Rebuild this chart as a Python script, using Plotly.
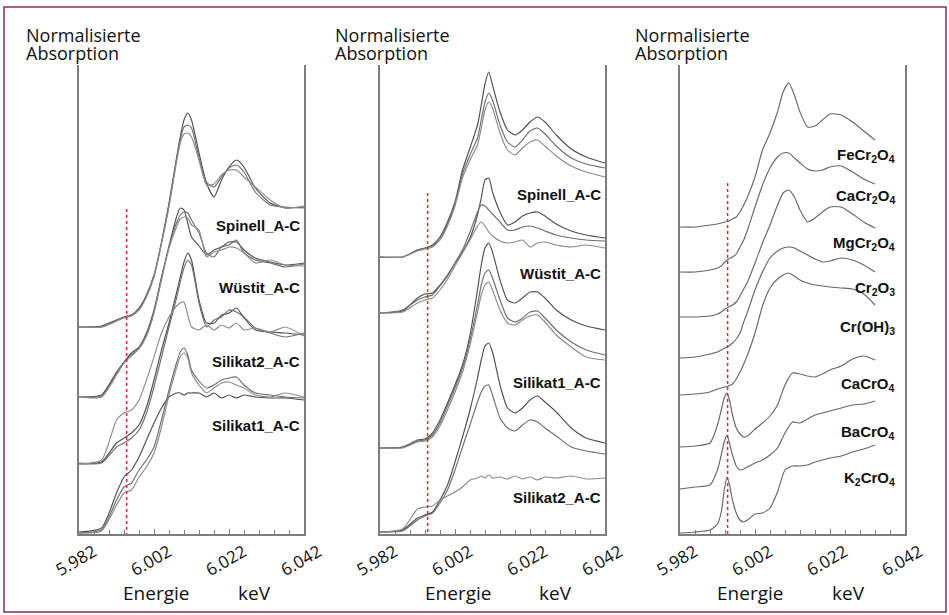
import plotly.graph_objects as go

# ---------------- energy grids (keV) ----------------
energy_fe = [5.982, 5.988, 5.992, 5.994, 5.996, 5.998, 6.000, 6.002, 6.004, 6.006,
             6.008, 6.009, 6.010, 6.011, 6.012, 6.014, 6.016, 6.018, 6.020, 6.022,
             6.024, 6.026, 6.029, 6.033, 6.037, 6.042]
energy_ref = [5.982, 5.986, 5.990, 5.992, 5.993, 5.994, 5.995, 5.996, 5.997, 5.998,
              5.999, 6.000, 6.002, 6.004, 6.006, 6.008, 6.0095, 6.011, 6.0125, 6.014,
              6.016, 6.018, 6.020, 6.022, 6.025, 6.028, 6.031, 6.034]
energy_chromate = [5.982, 5.986, 5.990, 5.992, 5.993, 5.9938, 5.9945, 5.9952, 5.996, 5.997,
                   5.998, 5.999, 6.000, 6.002, 6.004, 6.006, 6.008, 6.010, 6.012, 6.014,
                   6.016, 6.018, 6.020, 6.022, 6.025, 6.028, 6.031, 6.034]

# ---------------- panel 1 (stacked, normalised absorption + offset) ----------------
p1_spinell = [
    [20.7, 20.8, 21.4, 21.7, 21.9, 22.6, 23.9, 25.9, 29.2, 33.1, 37.6, 39.7, 41.4, 42.1, 41.4, 38.1, 35.1, 33.7, 35.4, 36.7, 37.4, 36.7, 34.6, 33.1, 32.6, 32.7],
    [20.7, 20.7, 21.3, 21.7, 21.9, 22.5, 23.8, 25.8, 29.1, 32.9, 37.4, 39.4, 40.7, 40.9, 40.6, 37.6, 35.2, 34.7, 35.7, 36.6, 36.9, 36.2, 34.2, 32.9, 32.7, 32.6],
    [20.7, 20.7, 21.3, 21.6, 21.8, 22.4, 23.7, 25.7, 29.0, 32.7, 37.2, 39.1, 40.0, 40.1, 39.7, 37.4, 34.9, 35.0, 35.9, 36.4, 36.4, 35.7, 34.7, 33.4, 32.6, 32.8],
]
p1_wuestit = [
    [13.7, 13.9, 16.2, 17.2, 18.1, 18.7, 20.1, 22.4, 25.7, 28.8, 31.7, 32.6, 32.4, 31.1, 29.7, 28.8, 27.9, 28.4, 28.7, 29.2, 29.2, 28.4, 27.6, 27.2, 26.9, 27.1],
    [13.7, 13.8, 16.0, 17.1, 17.9, 18.6, 19.9, 22.2, 25.6, 28.7, 31.1, 31.9, 32.2, 32.1, 31.4, 30.1, 28.1, 27.7, 28.7, 28.9, 29.4, 28.1, 27.4, 27.1, 26.7, 27.0],
    [13.7, 13.7, 15.9, 17.1, 17.8, 18.5, 19.8, 22.1, 25.4, 28.6, 30.7, 31.5, 31.7, 31.6, 30.9, 30.4, 27.7, 28.2, 28.4, 28.7, 28.6, 28.1, 27.1, 27.4, 26.9, 26.8],
]
p1_silikat2 = [
    [7.0, 7.2, 9.1, 9.6, 10.1, 10.9, 12.7, 15.4, 18.4, 21.1, 24.1, 25.7, 27.2, 28.1, 27.4, 23.4, 21.1, 21.1, 21.9, 22.1, 22.6, 21.6, 20.4, 20.2, 20.1, 19.9],
    [7.1, 7.1, 8.7, 9.1, 9.6, 10.4, 12.1, 14.7, 17.7, 20.7, 23.6, 25.2, 26.6, 27.4, 26.9, 23.1, 20.7, 21.4, 21.7, 22.4, 22.2, 21.7, 20.6, 20.1, 19.7, 20.1],
    [7.0, 7.4, 11.4, 12.1, 12.4, 13.4, 15.4, 17.7, 20.1, 21.7, 22.8, 23.1, 23.2, 21.9, 20.7, 20.4, 20.9, 20.4, 20.9, 20.6, 21.1, 20.4, 20.6, 20.2, 20.7, 19.8],
]
p1_silikat1 = [
    [0.2, 0.6, 4.1, 5.7, 6.4, 7.7, 9.4, 11.1, 12.6, 13.7, 14.1, 14.1, 13.9, 14.1, 14.1, 14.1, 13.7, 14.1, 13.6, 13.9, 13.6, 13.9, 13.7, 13.6, 13.6, 13.4],
    [0.1, 0.4, 3.4, 4.7, 5.1, 6.4, 7.4, 8.7, 11.4, 14.4, 17.1, 18.2, 18.6, 17.9, 16.4, 15.3, 14.6, 14.9, 15.4, 15.6, 15.7, 14.9, 14.1, 13.9, 13.7, 13.6],
    [0.1, 0.3, 2.9, 4.1, 4.4, 5.7, 6.7, 8.1, 10.7, 13.9, 16.6, 17.7, 18.1, 17.6, 16.1, 14.9, 14.1, 14.6, 15.1, 15.2, 14.9, 14.6, 13.9, 13.7, 14.1, 13.7],
]

# ---------------- panel 2 ----------------
p2_spinell = [
    [27.7, 27.7, 28.4, 28.6, 28.9, 29.7, 31.2, 33.2, 36.4, 38.6, 40.9, 42.9, 45.0, 46.2, 44.9, 42.2, 40.4, 39.9, 40.4, 41.2, 41.7, 41.2, 39.9, 38.5, 37.7, 37.1],
    [27.7, 27.7, 28.4, 28.6, 28.8, 29.6, 31.0, 33.0, 36.0, 37.9, 39.6, 41.4, 43.2, 44.1, 43.4, 40.9, 39.2, 38.7, 39.4, 40.3, 40.6, 40.0, 38.8, 37.6, 37.0, 36.6],
    [27.7, 27.7, 28.3, 28.5, 28.7, 29.4, 30.8, 32.8, 35.6, 37.4, 38.9, 40.6, 42.4, 43.2, 42.6, 40.1, 38.4, 37.9, 38.6, 39.2, 39.4, 38.8, 37.8, 36.8, 36.2, 35.7],
]
p2_wuestit = [
    [22.1, 22.3, 23.6, 24.0, 24.1, 24.9, 25.9, 27.1, 28.2, 29.6, 31.9, 33.6, 35.4, 35.6, 34.2, 32.2, 30.9, 31.2, 31.8, 32.1, 32.2, 31.8, 31.0, 30.3, 29.9, 29.6],
    [22.1, 22.4, 23.4, 23.7, 23.9, 24.8, 25.8, 27.1, 28.4, 30.2, 32.2, 32.9, 32.8, 32.4, 32.0, 31.2, 30.4, 30.4, 30.7, 30.8, 30.6, 30.3, 29.9, 29.6, 29.4, 29.3],
    [22.1, 22.2, 23.1, 23.4, 23.6, 24.4, 25.5, 26.8, 28.1, 29.4, 30.8, 31.2, 30.8, 30.2, 29.8, 29.3, 29.1, 29.2, 29.4, 28.7, 29.1, 29.2, 28.9, 28.7, 28.9, 28.6],
]
p2_silikat1 = [
    [8.6, 8.7, 9.4, 9.5, 10.1, 11.4, 13.1, 14.9, 16.9, 19.9, 24.4, 26.9, 28.6, 29.1, 28.2, 25.4, 23.4, 23.1, 23.6, 24.2, 24.2, 23.6, 22.4, 21.4, 20.8, 20.4],
    [8.6, 8.7, 9.3, 9.4, 9.9, 11.1, 12.8, 14.6, 16.6, 19.4, 22.9, 24.9, 26.1, 26.4, 25.6, 23.4, 21.6, 21.2, 21.6, 22.2, 22.3, 21.6, 20.4, 19.2, 18.4, 17.9],
    [8.6, 8.6, 9.2, 9.3, 9.7, 10.8, 12.4, 14.2, 16.2, 18.9, 22.2, 23.9, 24.9, 25.2, 24.4, 22.4, 21.1, 20.9, 21.4, 21.8, 21.9, 21.2, 19.9, 18.7, 17.7, 17.4],
]
p2_silikat2 = [
    [0.2, 0.4, 1.6, 1.9, 2.2, 3.4, 4.9, 7.2, 9.7, 12.4, 15.6, 17.4, 18.8, 19.1, 18.2, 14.9, 12.6, 12.1, 12.6, 13.4, 13.8, 13.2, 12.2, 10.6, 9.6, 9.1],
    [0.2, 0.3, 1.4, 1.8, 2.1, 3.1, 4.4, 6.4, 8.7, 10.9, 13.2, 14.2, 14.8, 14.9, 13.9, 11.6, 10.6, 10.3, 10.9, 11.4, 11.2, 10.6, 9.8, 8.7, 8.3, 8.0],
    [0.2, 0.5, 2.5, 2.7, 2.8, 3.4, 3.8, 4.2, 4.7, 5.4, 5.6, 5.8, 5.6, 5.9, 5.6, 5.7, 5.5, 5.8, 5.5, 5.7, 5.4, 5.7, 5.6, 5.8, 5.5, 5.6],
]

# ---------------- panel 3 (reference compounds) ----------------
ref_fecr2o4 = [30.7, 30.7, 30.9, 31.0, 31.1, 31.2, 31.3, 31.5, 31.7, 32.2, 32.9, 33.7, 35.7, 38.4, 40.1, 42.2, 44.2, 45.1, 43.9, 42.2, 40.7, 40.8, 41.4, 42.0, 41.9, 41.2, 40.3, 39.4]
ref_cacr2o4 = [26.2, 26.2, 26.4, 26.6, 26.8, 27.2, 27.5, 27.7, 28.0, 28.7, 29.4, 30.4, 32.7, 34.9, 36.6, 37.7, 38.1, 38.1, 37.6, 37.1, 36.5, 36.3, 36.4, 36.7, 36.8, 36.2, 35.5, 35.0]
ref_mgcr2o4 = [21.7, 21.7, 21.8, 22.0, 22.2, 22.5, 22.7, 22.9, 23.2, 23.8, 24.5, 25.2, 27.1, 29.1, 30.9, 32.9, 34.1, 34.4, 33.7, 32.4, 31.2, 31.6, 32.2, 32.7, 32.7, 32.0, 31.2, 30.6]
ref_cr2o3 = [17.6, 17.7, 18.0, 18.2, 18.4, 18.6, 18.8, 19.1, 19.5, 20.1, 21.2, 22.2, 24.4, 26.2, 27.6, 28.3, 28.6, 28.7, 28.6, 28.3, 27.9, 27.5, 27.2, 27.3, 27.6, 27.4, 26.9, 26.2]
ref_croh3 = [13.9, 14.0, 14.2, 14.5, 14.6, 14.7, 14.8, 15.0, 15.5, 16.2, 17.0, 17.9, 20.1, 22.8, 24.6, 25.5, 25.9, 26.1, 25.8, 25.4, 25.1, 24.9, 24.8, 24.7, 24.6, 24.5, 24.0, 22.9]
ref_cacro4 = [8.7, 8.8, 9.1, 10.9, 12.4, 13.6, 14.1, 13.4, 11.9, 10.6, 10.0, 9.7, 9.8, 10.5, 11.1, 11.8, 12.9, 14.9, 16.1, 16.0, 15.8, 15.7, 16.0, 16.4, 16.8, 17.5, 17.8, 17.4]
ref_bacro4 = [4.5, 4.7, 4.9, 6.4, 7.9, 9.2, 9.9, 9.1, 7.9, 6.8, 6.4, 6.5, 6.7, 7.1, 7.4, 7.9, 8.6, 10.1, 11.2, 11.1, 11.5, 11.9, 12.1, 12.3, 12.6, 12.9, 13.0, 13.3]
ref_k2cro4 = [0.1, 0.2, 0.4, 1.0, 2.2, 4.4, 5.7, 4.9, 3.4, 2.1, 1.4, 1.2, 1.4, 2.0, 2.1, 2.6, 4.2, 6.4, 6.8, 6.8, 6.9, 7.2, 7.4, 7.6, 7.8, 8.2, 8.5, 8.9]

# ---------------- labels ----------------
p1_labels = ["Spinell_A-C", "Wüstit_A-C", "Silikat2_A-C", "Silikat1_A-C"]
p1_label_y = [30.9, 24.7, 17.3, 10.9]
p2_labels = ["Spinell_A-C", "Wüstit_A-C", "Silikat1_A-C", "Silikat2_A-C"]
p2_label_y = [34.0, 26.1, 15.2, 3.7]
p3_labels = ["FeCr<sub>2</sub>O<sub>4</sub>", "CaCr<sub>2</sub>O<sub>4</sub>", "MgCr<sub>2</sub>O<sub>4</sub>",
             "Cr<sub>2</sub>O<sub>3</sub>", "Cr(OH)<sub>3</sub>", "CaCrO<sub>4</sub>", "BaCrO<sub>4</sub>",
             "K<sub>2</sub>CrO<sub>4</sub>"]
p3_label_y = [37.9, 33.8, 29.1, 24.6, 20.7, 15.0, 10.2, 5.6]
label_x = [6.0415, 6.0415, 6.0399]

tick_vals = [5.982, 6.002, 6.022, 6.042]
tick_text = ["5.982", "6.002", "6.022", "6.042"]
x_range = [5.982, 6.042]
y_range = [0, 46.9]

red_energy = 5.9947
red_top = [32.5, 34.1, 35.1]
xlabel_pos = [(6.0025, 6.0287), (6.0027, 6.0289), (6.0007, 6.0270)]

curve_colors = ["#4f4f4f", "#6e6e6e", "#8a8a8a"]

fig = go.Figure()

panels = [
    ("x", "y", energy_fe, [p1_spinell, p1_wuestit, p1_silikat2, p1_silikat1]),
    ("x2", "y2", energy_fe, [p2_spinell, p2_wuestit, p2_silikat1, p2_silikat2]),
]
for xa, ya, en, groups in panels:
    for grp in groups:
        for k, vals in enumerate(grp):
            fig.add_trace(go.Scatter(x=en, y=vals, xaxis=xa, yaxis=ya, mode="lines",
                                     line=dict(color=curve_colors[k], width=1.15, shape="spline", smoothing=0.6),
                                     showlegend=False, hoverinfo="skip"))

for vals in [ref_fecr2o4, ref_cacr2o4, ref_mgcr2o4, ref_cr2o3, ref_croh3]:
    fig.add_trace(go.Scatter(x=energy_ref, y=vals, xaxis="x3", yaxis="y3", mode="lines",
                             line=dict(color="#666666", width=1.15, shape="spline", smoothing=0.6),
                             showlegend=False, hoverinfo="skip"))
for vals in [ref_cacro4, ref_bacro4, ref_k2cro4]:
    fig.add_trace(go.Scatter(x=energy_chromate, y=vals, xaxis="x3", yaxis="y3", mode="lines",
                             line=dict(color="#666666", width=1.15, shape="spline", smoothing=0.6),
                             showlegend=False, hoverinfo="skip"))

# red dotted reference lines
for i, (xa, ya) in enumerate([("x", "y"), ("x2", "y2"), ("x3", "y3")]):
    fig.add_trace(go.Scatter(x=[red_energy, red_energy], y=[red_top[i], 0], xaxis=xa, yaxis=ya,
                             mode="lines", line=dict(color="#e5262b", width=1.5, dash="dot"),
                             showlegend=False, hoverinfo="skip"))

x_domains = [[79 / 949, 304 / 949], [380 / 949, 605 / 949], [680 / 949, 905 / 949]]
y_domain = [81 / 615, 550 / 615]
axis_col = "#7d7d7d"

layout = dict(width=949, height=615, margin=dict(l=0, r=0, t=0, b=0),
              paper_bgcolor="white", plot_bgcolor="white", showlegend=False)
for i in range(3):
    sx = "" if i == 0 else str(i + 1)
    layout["xaxis" + sx] = dict(domain=x_domains[i], anchor="y" + sx, range=x_range,
                                showgrid=False, zeroline=False, showline=True, linecolor=axis_col,
                                linewidth=1.5, mirror=False, tickmode="array", tickvals=tick_vals,
                                ticks="inside", ticklen=5, tickcolor=axis_col, tickwidth=1,
                                showticklabels=False,
                                minor=dict(tick0=5.982, dtick=0.004, ticks="inside", ticklen=4,
                                           tickcolor=axis_col, tickwidth=1))
    layout["yaxis" + sx] = dict(domain=y_domain, anchor="x" + sx, range=y_range, showgrid=False,
                                zeroline=False, showline=True, linecolor=axis_col, linewidth=1.5,
                                mirror=True, ticks="", showticklabels=False)
fig.update_layout(**layout)

ann = []
font_title = dict(family="Open Sans, sans-serif", size=18, color="#111111")
font_tick = dict(family="Open Sans, sans-serif", size=17, color="#111111")
font_axis = dict(family="Open Sans, sans-serif", size=19, color="#111111")
font_lab = dict(family="Liberation Sans, Arial, sans-serif", size=15, color="#111111")
title_x = [24 / 949, 333 / 949, 633 / 949]
for i in range(3):
    sx = "" if i == 0 else str(i + 1)
    ann.append(dict(x=title_x[i], y=1 - 35 / 615, xref="paper", yref="paper", text="Normalisierte",
                    showarrow=False, xanchor="left", yanchor="middle", font=font_title))
    ann.append(dict(x=title_x[i], y=1 - 53 / 615, xref="paper", yref="paper", text="Absorption",
                    showarrow=False, xanchor="left", yanchor="middle", font=font_title))
    for tv, tt in zip(tick_vals, tick_text):
        ann.append(dict(x=tv, y=1 - 560 / 615, xref="x" + sx, yref="paper", text=tt, textangle=-30,
                        showarrow=False, xanchor="center", yanchor="middle", xshift=-4, font=font_tick))
    ann.append(dict(x=xlabel_pos[i][0], y=1 - 593 / 615, xref="x" + sx, yref="paper", text="Energie",
                    showarrow=False, xanchor="center", yanchor="middle", font=font_axis))
    ann.append(dict(x=xlabel_pos[i][1], y=1 - 593 / 615, xref="x" + sx, yref="paper", text="keV",
                    showarrow=False, xanchor="center", yanchor="middle", font=font_axis))

for i, (labs, ys) in enumerate([(p1_labels, p1_label_y), (p2_labels, p2_label_y), (p3_labels, p3_label_y)]):
    sx = "" if i == 0 else str(i + 1)
    for t, yv in zip(labs, ys):
        ann.append(dict(x=label_x[i], y=yv, xref="x" + sx, yref="y" + sx, text="<b>" + t + "</b>",
                        showarrow=False, xanchor="right", yanchor="middle", font=font_lab))

fig.update_layout(annotations=ann)
fig.add_shape(type="rect", xref="paper", yref="paper", x0=4 / 949, x1=946 / 949,
              y0=1 - 612 / 615, y1=1 - 7 / 615, line=dict(color="#8e2c57", width=1.5))

fig.write_html("out.html", config={"displayModeBar": False},
               post_script="document.body.style.margin='0px';")
